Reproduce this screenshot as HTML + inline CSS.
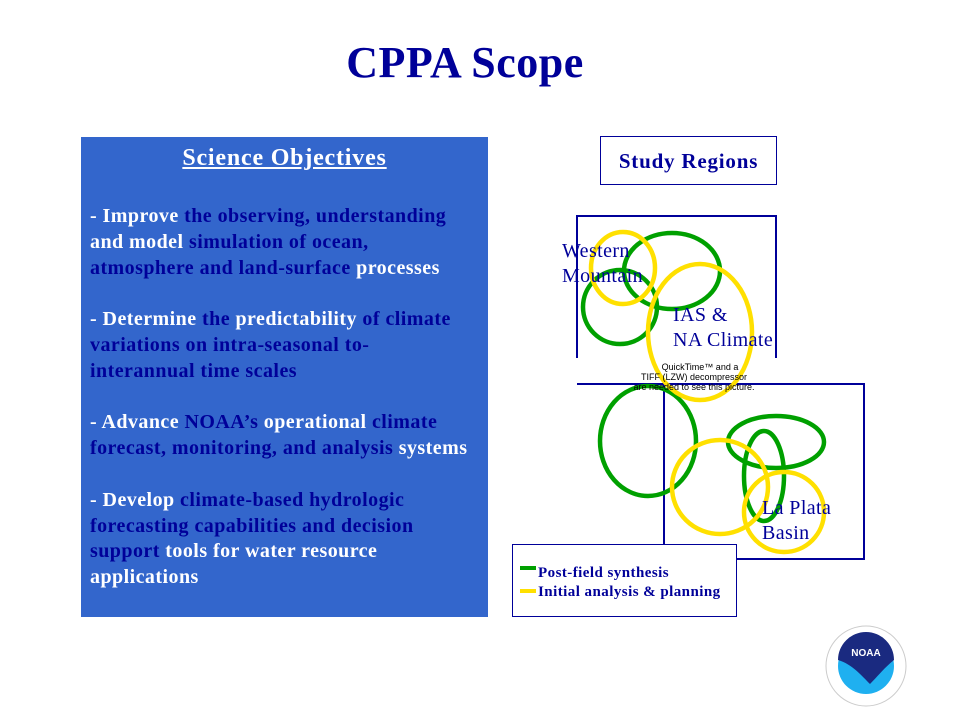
<!DOCTYPE html>
<html><head><style>
body{margin:0;width:960px;height:720px;background:#fff;position:relative;overflow:hidden;font-family:"Liberation Serif",serif}
.a{position:absolute}
#title{left:0;width:930px;top:37px;text-align:center;font-size:44px;font-weight:bold;color:#000099;letter-spacing:0.5px}
#box{left:81px;top:137px;width:407px;height:480px;background:#3366CC}
.obj{position:absolute;left:9px;top:67px;width:420px;font-size:20px;font-weight:bold;line-height:25.8px;color:#000099;white-space:nowrap;letter-spacing:0.45px}
.w{color:#fff}
.p{margin:0 0 25.8px 0}
</style></head><body>
<div class="a" id="title">CPPA Scope</div>
<div class="a" id="box">
<div style="position:absolute;left:0;width:407px;top:8px;text-align:center;font-size:24px;font-weight:bold;color:#fff;text-decoration:underline;letter-spacing:0.8px">Science Objectives</div>
<div class="obj">
<div class="p"><span class="w">- Improve</span> the observing, understanding<br><span class="w">and model</span> simulation of ocean,<br>atmosphere and land-surface <span class="w">processes</span></div>
<div class="p"><span class="w">- Determine</span> the <span class="w">predictability</span> of climate<br>variations on intra-seasonal to-<br>interannual time scales</div>
<div class="p"><span class="w">- Advance</span> NOAA’s <span class="w">operational</span> climate<br>forecast, monitoring, and analysis <span class="w">systems</span></div>
<div class="p"><span class="w">- Develop</span> climate-based hydrologic<br>forecasting capabilities and decision<br>support <span class="w">tools for water resource<br>applications</span></div>
</div>
</div>
<div class="a" style="left:600px;top:136px;width:177px;height:49px;border:1px solid #000099;box-sizing:border-box;text-align:center;line-height:48px;font-size:21px;font-weight:bold;color:#000099;letter-spacing:0.8px">Study Regions</div>
<svg class="a" style="left:0;top:0" width="960" height="720">
<g fill="none" stroke="#000099" stroke-width="2">
<polyline points="577,358 577,216 776,216 776,358"/>
<polyline points="577,384 864,384 864,559 664,559 664,384"/>
</g>
<g fill="none" stroke-width="4.5">
<ellipse cx="672" cy="271" rx="48" ry="38" stroke="#00A000"/>
<ellipse cx="620" cy="307" rx="37" ry="37" stroke="#00A000"/>
<ellipse cx="648" cy="441" rx="48" ry="55" stroke="#00A000"/>
<ellipse cx="776" cy="442" rx="48" ry="26" stroke="#00A000"/>
<ellipse cx="764" cy="476" rx="20" ry="45" stroke="#00A000"/>
<ellipse cx="623" cy="268" rx="32" ry="36" stroke="#FFE000"/>
<ellipse cx="700" cy="332" rx="52" ry="68" stroke="#FFE000"/>
<ellipse cx="720" cy="487" rx="48" ry="47" stroke="#FFE000"/>
<ellipse cx="784" cy="512" rx="40" ry="40" stroke="#FFE000"/>
</g>
<g font-family="Liberation Sans,sans-serif" font-size="9" fill="#000" text-anchor="middle">
<text x="700" y="370">QuickTime™ and a</text>
<text x="694" y="380">TIFF (LZW) decompressor</text>
<text x="694" y="390">are needed to see this picture.</text>
</g>
<g font-family="Liberation Serif,serif" font-size="20" fill="#000099" letter-spacing="0.4">
<text x="562" y="257">Western</text><text x="562" y="282">Mountain</text>
<text x="673" y="321">IAS &amp;</text><text x="673" y="346">NA Climate</text>
<text x="762" y="514">La Plata</text><text x="762" y="539">Basin</text>
</g>
<rect x="512.5" y="544.5" width="224" height="72" fill="#fff" stroke="#000099" stroke-width="1"/>
<rect x="520" y="566" width="16" height="4" fill="#00A000"/>
<rect x="520" y="589" width="16" height="4" fill="#FFE000"/>
<g font-family="Liberation Serif,serif" font-size="15" font-weight="bold" fill="#000099" letter-spacing="0.45">
<text x="538" y="577">Post-field synthesis</text>
<text x="538" y="596">Initial analysis &amp; planning</text>
</g>
<circle cx="866" cy="666" r="40" fill="#fff" stroke="#ccc" stroke-width="1"/>
<circle cx="866" cy="666" r="28" fill="#1FB0F0"/>
<path d="M838,660 A28,28 0 0 1 894,660 C884,668 878,676 870,684 C862,676 852,664 838,660Z" fill="#1A2A80"/>
<text x="866" y="656" font-family="Liberation Sans,sans-serif" font-size="10" font-weight="bold" fill="#fff" text-anchor="middle">NOAA</text>
</svg>
</body></html>
